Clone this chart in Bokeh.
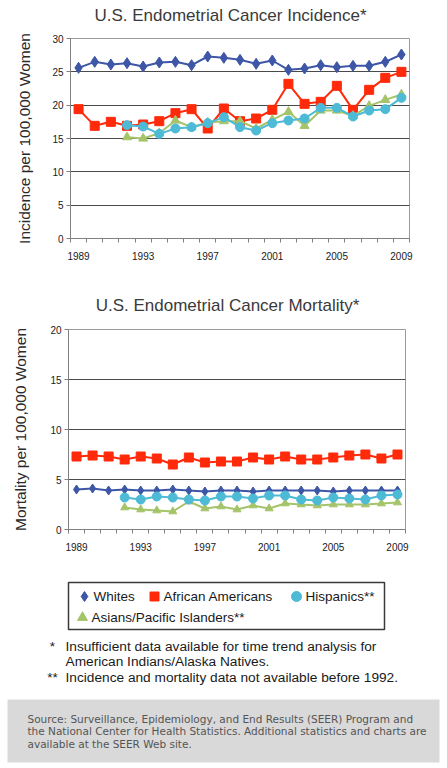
from bokeh.plotting import figure
from bokeh.models import FixedTicker, Range1d
from bokeh.embed import file_html
from bokeh.resources import INLINE
from bokeh.core.properties import value

# ---------------- data ----------------
years = list(range(1989, 2010))
years_92 = list(range(1992, 2010))

inc_whites = [25.6, 26.5, 26.1, 26.3, 25.8, 26.4, 26.5, 26.0, 27.3, 27.1, 26.8,
              26.2, 26.7, 25.3, 25.5, 26.0, 25.7, 25.9, 25.9, 26.5, 27.6]
inc_african = [19.4, 16.9, 17.5, 16.9, 17.1, 17.6, 18.8, 19.4, 16.5, 19.5, 17.6,
               18.0, 19.3, 23.2, 20.2, 20.5, 22.9, 19.3, 22.3, 24.1, 25.0]
inc_hispanic = [17.0, 16.8, 15.7, 16.5, 16.7, 17.3, 18.2, 16.7, 16.2, 17.3, 17.7,
                18.0, 19.6, 19.6, 18.3, 19.2, 19.4, 21.1]
inc_asian = [15.2, 15.0, 15.8, 17.7, 16.7, 17.4, 17.6, 17.6, 16.5, 17.8, 19.0,
             16.9, 19.2, 19.2, 18.4, 19.9, 20.8, 21.6]

mort_whites = [4.0, 4.1, 3.9, 4.0, 3.9, 3.9, 4.0, 3.9, 3.8, 3.9, 3.9,
               3.8, 3.9, 3.9, 3.9, 3.9, 3.8, 3.9, 3.9, 3.9, 3.9]
mort_african = [7.3, 7.4, 7.3, 7.0, 7.3, 7.1, 6.5, 7.2, 6.7, 6.8, 6.8,
                7.2, 7.0, 7.3, 7.0, 7.0, 7.2, 7.4, 7.5, 7.1, 7.5]
mort_hispanic = [3.2, 3.0, 3.3, 3.2, 3.0, 2.9, 3.3, 3.3, 3.1, 3.4, 3.4,
                 3.0, 2.9, 3.2, 3.1, 3.0, 3.4, 3.5]
mort_asian = [2.2, 2.0, 1.9, 1.8, 2.8, 2.1, 2.3, 2.0, 2.4, 2.1, 2.6,
              2.5, 2.4, 2.5, 2.5, 2.5, 2.6, 2.7]

series_names = ["Whites", "African Americans", "Hispanics**", "Asians/Pacific Islanders**"]
colors = ["#3D56A6", "#FF2A0A", "#4DBAD6", "#A5C46A"]
markers = ["diamond", "square", "circle", "triangle"]

x_tick_labels = [1989, 1993, 1997, 2001, 2005, 2009]
inc_y_ticks = [0, 5, 10, 15, 20, 25, 30]
mort_y_ticks = [0, 5, 10, 15, 20]

title_inc = "U.S. Endometrial Cancer Incidence*"
title_mort = "U.S. Endometrial Cancer Mortality*"
ylabel_inc = "Incidence per 100,000 Women"
ylabel_mort = "Mortality per 100,000 Women"

footnotes = [("*", "Insufficient data available for time trend analysis for"),
             ("", "American Indians/Alaska Natives."),
             ("**", "Incidence and mortality data not available before 1992.")]
source_lines = ["Source: Surveillance, Epidemiology, and End Results (SEER) Program and",
                "the National Center for Health Statistics. Additional statistics and charts are",
                "available at the SEER Web site."]

FONT = "Liberation Sans"
W = 447


def blank_fig(h):
    f = figure(width=W, height=h, x_range=Range1d(0, W), y_range=Range1d(h, 0),
               output_backend="svg", toolbar_location=None,
               min_border_left=0, min_border_right=0, min_border_top=0, min_border_bottom=0,
               x_axis_location=None, y_axis_location=None)
    f.grid.visible = False
    f.outline_line_color = None
    f.background_fill_color = "white"
    f.border_fill_color = "white"
    return f


def title_fig(text, h, cx, cy):
    t = blank_fig(h)
    t.text([cx], [cy], text=[text], text_font=value(FONT), text_font_size="17px",
           text_align="center", text_baseline="middle", text_color="#3a3a3a")
    return t


def make_chart(ylabel, yticks, series, h, bl, bt, br, bb, lstand, msizes):
    p = figure(width=W, height=h, x_range=Range1d(years[0] - 0.5, years[-1] + 0.5),
               y_range=Range1d(yticks[0], yticks[-1]),
               output_backend="svg", toolbar_location=None,
               min_border_left=bl, min_border_top=bt, min_border_right=br, min_border_bottom=bb)
    p.background_fill_color = "white"
    p.border_fill_color = "white"
    p.outline_line_color = "#9a9a9a"

    xa = p.xaxis[0]
    xa.ticker = FixedTicker(ticks=x_tick_labels,
                            minor_ticks=[y - 0.5 for y in years] + [years[-1] + 0.5])
    xa.major_tick_out = 0
    xa.major_tick_in = 0
    xa.minor_tick_out = 4
    xa.minor_tick_in = 0
    xa.minor_tick_line_color = "#808080"
    xa.axis_line_color = "#808080"
    xa.major_label_standoff = 9
    xa.major_label_text_font = FONT
    xa.major_label_text_font_size = "10px"
    xa.major_label_text_color = "#1a1a1a"

    ya = p.yaxis[0]
    ya.ticker = FixedTicker(ticks=yticks)
    ya.major_tick_out = 4
    ya.major_tick_in = 0
    ya.minor_tick_out = 0
    ya.minor_tick_in = 0
    ya.major_tick_line_color = "#808080"
    ya.axis_line_color = "#808080"
    ya.major_label_standoff = 3
    ya.major_label_text_font = FONT
    ya.major_label_text_font_size = "10px"
    ya.major_label_text_color = "#1a1a1a"
    ya.axis_label = ylabel
    ya.axis_label_text_font = FONT
    ya.axis_label_text_font_size = "15.5px"
    ya.axis_label_text_font_style = "normal"
    ya.axis_label_text_color = "#2a2a2a"
    ya.axis_label_standoff = lstand

    p.xgrid.visible = False
    p.ygrid.grid_line_color = "#4a4a4a"
    p.ygrid.grid_line_width = 1

    for idx in [0, 1, 3, 2]:
        xs, ys = series[idx]
        p.line(xs, ys, line_color=colors[idx], line_width=2)
        p.scatter(xs, ys, marker=markers[idx], size=msizes[idx],
                  fill_color=colors[idx], line_color=colors[idx])
    return p


inc_series = [(years, inc_whites), (years, inc_african), (years_92, inc_hispanic), (years_92, inc_asian)]
mort_series = [(years, mort_whites), (years, mort_african), (years_92, mort_hispanic), (years_92, mort_asian)]

t1 = title_fig(title_inc, 26, 230, 15)
p1 = make_chart(ylabel_inc, inc_y_ticks, inc_series, 247, 70, 12, 38, 35, 16, [11, 9, 9, 9])
t2 = title_fig(title_mort, 45, 227, 32)
p2 = make_chart(ylabel_mort, mort_y_ticks, mort_series, 252, 68, 11, 42, 41, 18, [9, 9, 9, 8])

# ---------------- legend, footnotes, source ----------------
NH = 198
n = blank_fig(NH)

n.quad(left=[68], right=[384], top=[12], bottom=[59], fill_color=None,
       line_color="#3a3a3a", line_width=1.5)

leg_x = [84, 154, 296, 82]
leg_y = [26, 26, 26, 47]
leg_sizes = [10, 9, 10, 10]
for i in range(4):
    n.scatter([leg_x[i]], [leg_y[i]], marker=markers[i], size=leg_sizes[i],
              fill_color=colors[i], line_color=colors[i])
n.text([x + 9 for x in leg_x], leg_y, text=series_names, text_font=value(FONT),
       text_font_size="13.5px", text_baseline="middle", text_align="left", text_color="#1a1a1a")

fn_y = [76, 91, 107]
n.text([52, 52, 52], fn_y, text=[f[0] for f in footnotes], text_font=value(FONT),
       text_font_size="13.5px", text_baseline="middle", text_align="center", text_color="#1a1a1a")
n.text([65, 65, 65], fn_y, text=[f[1] for f in footnotes], text_font=value(FONT),
       text_font_size="13.7px", text_baseline="middle", text_align="left", text_color="#1a1a1a")

n.quad(left=[7], right=[439], top=[129], bottom=[192], fill_color="#D9D9D9", line_color=None)
n.text([27, 27, 27], [148, 160, 173], text=source_lines, text_font=value("DejaVu Sans"),
       text_font_size="10.5px", text_baseline="middle", text_align="left", text_color="#555555")

open("out.html", "w").write(file_html([t1, p1, t2, p2, n], INLINE))
